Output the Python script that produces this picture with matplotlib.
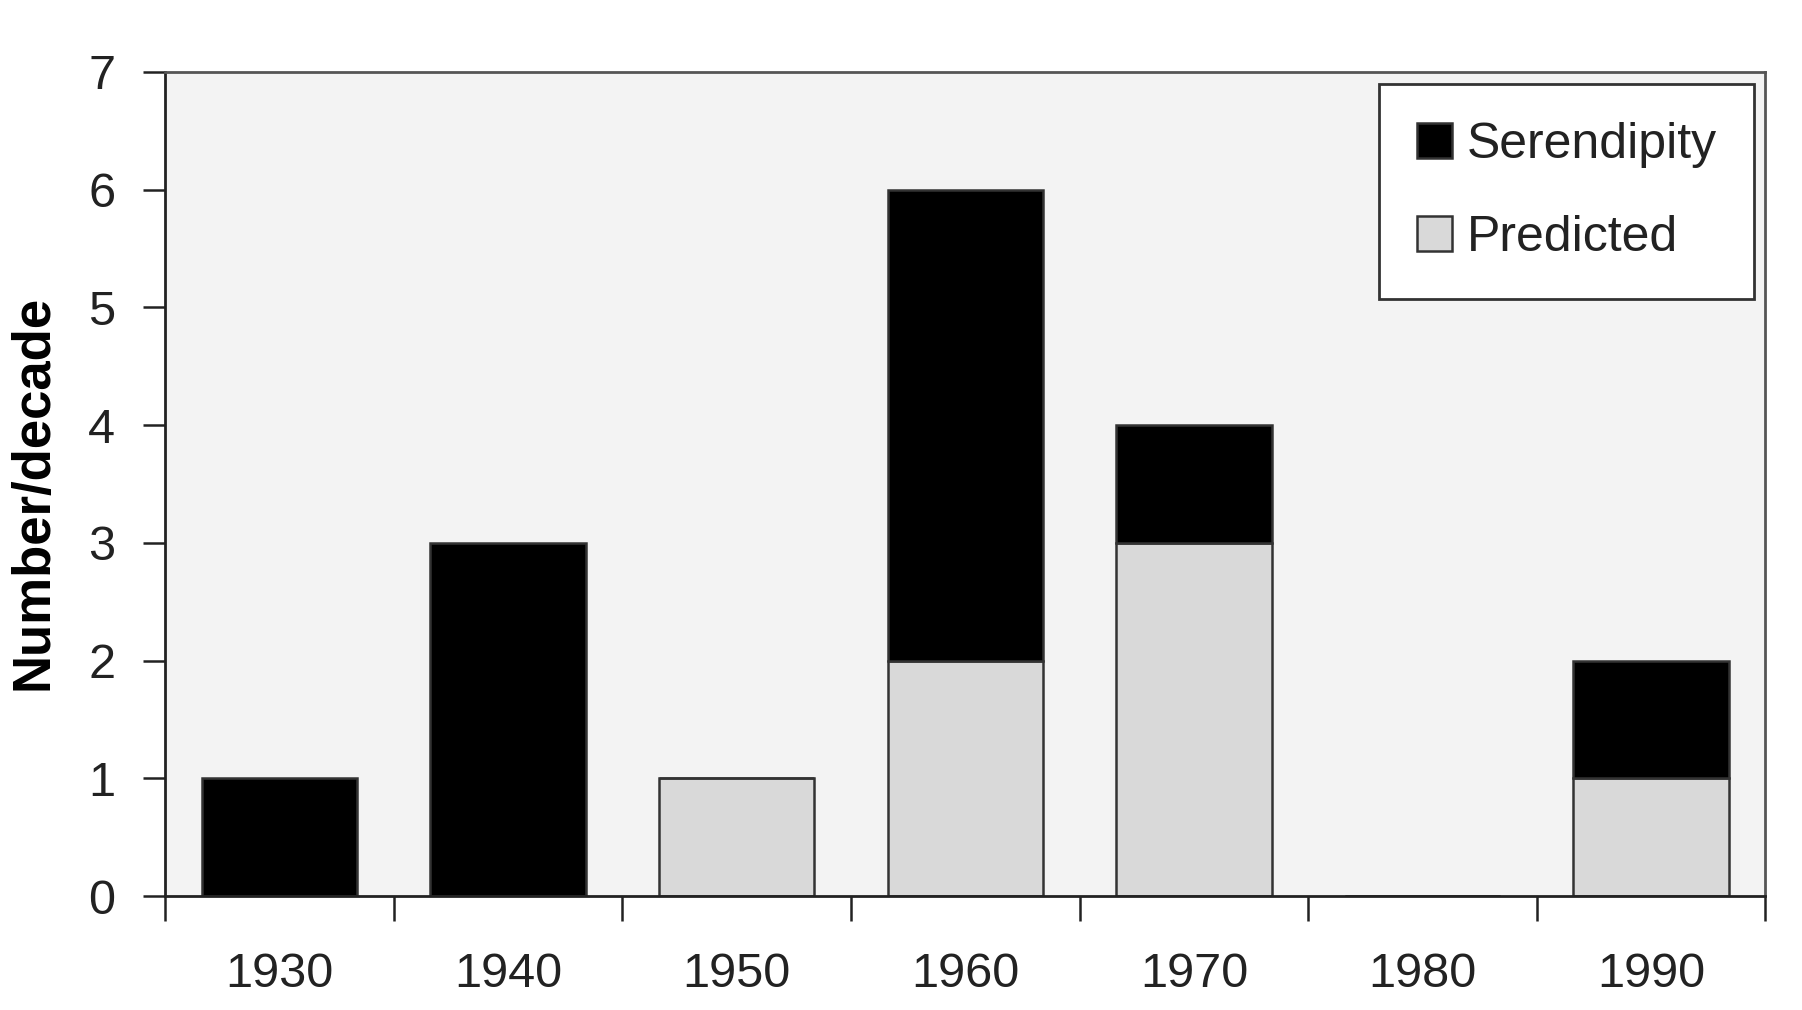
import numpy as np
import matplotlib.pyplot as plt

decades = ['1930', '1940', '1950', '1960', '1970', '1980', '1990']
predicted = [0, 0, 1, 2, 3, 0, 1]
serendipity = [1, 3, 0, 4, 1, 0, 1]

plt.rcParams['font.family'] = ['Liberation Sans', 'DejaVu Sans']

fig = plt.figure(figsize=(18.02, 10.10), dpi=100)
ax = fig.add_axes([0.0917, 0.1126, 0.888, 0.8164])
ax.set_facecolor('#f3f3f3')

x = np.arange(len(decades))
ax.bar(x, predicted, width=0.68, color='#d9d9d9', edgecolor='#333333', linewidth=1.8, label='Predicted')
ax.bar(x, serendipity, width=0.68, bottom=predicted, color='black', edgecolor='#333333', linewidth=1.8, label='Serendipity')

ax.set_xlim(-0.5, 6.5)
ax.set_ylim(0, 7)
ax.set_yticks(range(8))

# tick marks between decades, labels at centres
ax.set_xticks(np.arange(-0.5, 7, 1))
ax.set_xticklabels([])
ax.set_xticks(x, minor=True)
ax.set_xticklabels(decades, minor=True)
ax.tick_params(axis='x', which='major', length=18, width=1.8, color='#222222', direction='out')
ax.tick_params(axis='x', which='minor', length=0, pad=40, labelsize=35, labelcolor='#222222')
ax.tick_params(axis='y', length=16, width=1.8, color='#222222', pad=20, labelsize=35, labelcolor='#222222')

for s in ['left', 'bottom']:
    ax.spines[s].set_color('#222222')
    ax.spines[s].set_linewidth(2)
for s in ['top', 'right']:
    ax.spines[s].set_color('#555555')
    ax.spines[s].set_linewidth(2)

ax.set_ylabel('Number/decade', fontsize=38, fontweight='bold')
ax.yaxis.set_label_coords(-0.067, 0.49)

h, l = ax.get_legend_handles_labels()
leg = ax.legend(h[::-1], l[::-1], loc='upper right', bbox_to_anchor=(0.993, 0.985),
                fontsize=36, frameon=True, fancybox=False, handlelength=0.7, handleheight=0.7,
                handletextpad=0.3, labelspacing=0.95, borderpad=0.75, borderaxespad=0)
leg.get_frame().set_edgecolor('#333333')
leg.get_frame().set_linewidth(2)
leg.get_frame().set_facecolor('white')
leg.get_frame().set_alpha(1)
for t in leg.get_texts():
    t.set_color('#222222')

plt.savefig('out.png', dpi=100)
